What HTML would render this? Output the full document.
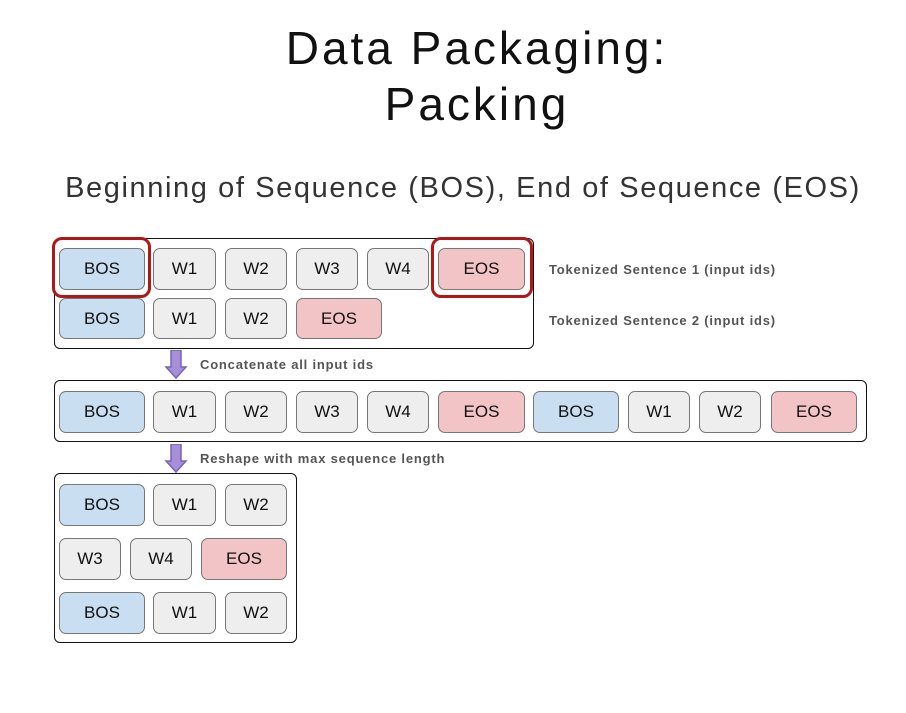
<!DOCTYPE html>
<html><head><style>
body{margin:0;width:906px;height:713px;background:#fff;position:relative;overflow:hidden;font-family:"Liberation Sans",sans-serif}
.t{position:absolute;left:0;width:906px;text-align:center;color:#111}
.b{position:absolute;box-sizing:border-box;border:1.5px solid #777;border-radius:7px;background:#eee;display:flex;align-items:center;justify-content:center;font-size:17px;color:#111}
.bos{background:#c9def0}.eos{background:#f2c4c5}
.o{position:absolute;box-sizing:border-box;border:1.5px solid #111;border-radius:6px}
.r{position:absolute;box-sizing:border-box;border:3px solid #b01818;border-radius:10px}
.l{position:absolute;font-size:13px;font-weight:bold;color:#555;letter-spacing:0.8px}
</style></head><body>
<div class="t" style="top:20px;font-size:46px;line-height:56px;left:24px;letter-spacing:3px">Data Packaging:<br>Packing</div>
<div class="t" style="top:172px;font-size:29px;left:10px;color:#333;letter-spacing:1.6px">Beginning of Sequence (BOS), End of Sequence (EOS)</div>

<div class="o" style="left:54px;top:238px;width:480px;height:111px"></div>
<div class="b bos" style="left:59px;top:248px;width:86px;height:42px">BOS</div>
<div class="b" style="left:153px;top:248px;width:63px;height:42px">W1</div>
<div class="b" style="left:225px;top:248px;width:62px;height:42px">W2</div>
<div class="b" style="left:296px;top:248px;width:62px;height:42px">W3</div>
<div class="b" style="left:367px;top:248px;width:62px;height:42px">W4</div>
<div class="b eos" style="left:438px;top:248px;width:87px;height:42px">EOS</div>
<div class="r" style="left:52px;top:237px;width:99px;height:61px"></div>
<div class="r" style="left:431px;top:237px;width:102px;height:61px"></div>
<div class="b bos" style="left:59px;top:298px;width:86px;height:41px">BOS</div>
<div class="b" style="left:153px;top:298px;width:63px;height:41px">W1</div>
<div class="b" style="left:225px;top:298px;width:62px;height:41px">W2</div>
<div class="b eos" style="left:296px;top:298px;width:86px;height:41px">EOS</div>
<div class="l" style="left:549px;top:262px">Tokenized Sentence 1 (input ids)</div>
<div class="l" style="left:549px;top:313px">Tokenized Sentence 2 (input ids)</div>

<svg style="position:absolute;left:164px;top:350px" width="24" height="30"><path d="M7 0H17V17H22L12 28L2 17H7Z" fill="#a58fd6" stroke="#7a62b8" stroke-width="1.5"/></svg>
<div class="l" style="left:200px;top:357px">Concatenate all input ids</div>

<div class="o" style="left:54px;top:380px;width:813px;height:62px"></div>
<div class="b bos" style="left:59px;top:391px;width:86px;height:42px">BOS</div>
<div class="b" style="left:153px;top:391px;width:63px;height:42px">W1</div>
<div class="b" style="left:225px;top:391px;width:62px;height:42px">W2</div>
<div class="b" style="left:296px;top:391px;width:62px;height:42px">W3</div>
<div class="b" style="left:367px;top:391px;width:62px;height:42px">W4</div>
<div class="b eos" style="left:438px;top:391px;width:87px;height:42px">EOS</div>
<div class="b bos" style="left:533px;top:391px;width:86px;height:42px">BOS</div>
<div class="b" style="left:628px;top:391px;width:62px;height:42px">W1</div>
<div class="b" style="left:699px;top:391px;width:62px;height:42px">W2</div>
<div class="b eos" style="left:771px;top:391px;width:86px;height:42px">EOS</div>

<svg style="position:absolute;left:164px;top:444px" width="24" height="30"><path d="M7 0H17V17H22L12 28L2 17H7Z" fill="#a58fd6" stroke="#7a62b8" stroke-width="1.5"/></svg>
<div class="l" style="left:200px;top:451px">Reshape with max sequence length</div>

<div class="o" style="left:54px;top:473px;width:243px;height:170px"></div>
<div class="b bos" style="left:59px;top:484px;width:86px;height:42px">BOS</div>
<div class="b" style="left:153px;top:484px;width:63px;height:42px">W1</div>
<div class="b" style="left:225px;top:484px;width:62px;height:42px">W2</div>
<div class="b" style="left:59px;top:538px;width:62px;height:42px">W3</div>
<div class="b" style="left:130px;top:538px;width:62px;height:42px">W4</div>
<div class="b eos" style="left:201px;top:538px;width:86px;height:42px">EOS</div>
<div class="b bos" style="left:59px;top:592px;width:86px;height:42px">BOS</div>
<div class="b" style="left:153px;top:592px;width:63px;height:42px">W1</div>
<div class="b" style="left:225px;top:592px;width:62px;height:42px">W2</div>
</body></html>
